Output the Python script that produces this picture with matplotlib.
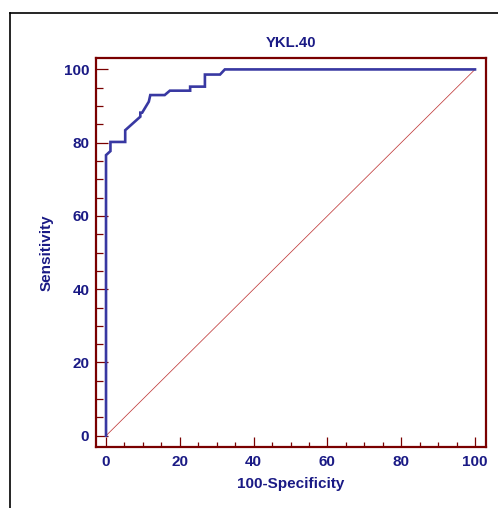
import matplotlib
matplotlib.use("Agg")
import matplotlib.pyplot as plt
from matplotlib.ticker import MultipleLocator
from matplotlib.lines import Line2D

# ROC curve points (100-Specificity, Sensitivity)
fpr = [0, 0, 1.2, 1.2, 5.2, 5.2, 9.3, 9.3, 9.8, 11.6, 12.0, 15.9, 17.3,
       22.8, 22.8, 26.8, 26.8, 30.9, 32.2, 100]
tpr = [0, 76.6, 77.7, 80.2, 80.2, 83.4, 87.1, 88.2, 88.2, 91.2, 93.0, 93.0,
       94.2, 94.2, 95.3, 95.3, 98.6, 98.6, 100, 100]
diag = [0, 100]
title = "YKL.40"
xlabel = "100-Specificity"
ylabel = "Sensitivity"

navy = "#1a1a85"
maroon = "#7a0000"
curve_c = "#3838a2"

plt.rcParams['font.family'] = ['Liberation Sans', 'DejaVu Sans']
plt.rcParams['font.weight'] = 'bold'

W, H = 498, 508
fig = plt.figure(figsize=(W / 100, H / 100), dpi=100)
l, r, t, b = 95.5, 485.7, 57.7, 446.7
ax = fig.add_axes([l / W, 1 - b / H, (r - l) / W, (b - t) / H])

ax.plot(diag, diag, color="#c03a3a", lw=0.55, zorder=2)
ax.plot(fpr, tpr, color=curve_c, lw=1.9, zorder=3, solid_joinstyle='miter')

ax.set_xlim(-2.85, 102.9)
ax.set_ylim(-3.0, 103.2)

ax.xaxis.set_major_locator(MultipleLocator(20))
ax.xaxis.set_minor_locator(MultipleLocator(5))
ax.yaxis.set_major_locator(MultipleLocator(20))
ax.yaxis.set_minor_locator(MultipleLocator(5))

for s in ax.spines.values():
    s.set_color(maroon)
    s.set_linewidth(1.6)

fs = 11
ax.tick_params(axis='x', which='major', direction='in', length=7.5, width=0.9,
               color=maroon, labelcolor=navy, labelsize=fs, pad=6)
ax.tick_params(axis='x', which='minor', direction='in', length=3.8, width=0.9,
               color=maroon)
ax.tick_params(axis='y', which='major', direction='in', length=8.5, width=0.9,
               color=maroon, labelcolor=navy, labelsize=fs, pad=4.5)
ax.tick_params(axis='y', which='minor', direction='in', length=5, width=0.9,
               color=maroon)
for lab in ax.get_xticklabels() + ax.get_yticklabels():
    lab.set_fontweight('bold')

ax.set_title(title, color=navy, fontsize=10.7, fontweight='bold', pad=7.5)
ax.set_xlabel(xlabel, color=navy, fontsize=fs, fontweight='bold', labelpad=6)
ax.set_ylabel(ylabel, color=navy, fontsize=fs, fontweight='bold', labelpad=7)

# outer black frame (left and top edges visible)
x0 = 10 / W
y0 = 1 - 12.7 / H
fig.add_artist(Line2D([x0, x0], [0, y0], color='black', lw=1.2,
                      transform=fig.transFigure))
fig.add_artist(Line2D([x0, 1], [y0, y0], color='black', lw=1.2,
                      transform=fig.transFigure))

fig.savefig("out.png", dpi=100)
